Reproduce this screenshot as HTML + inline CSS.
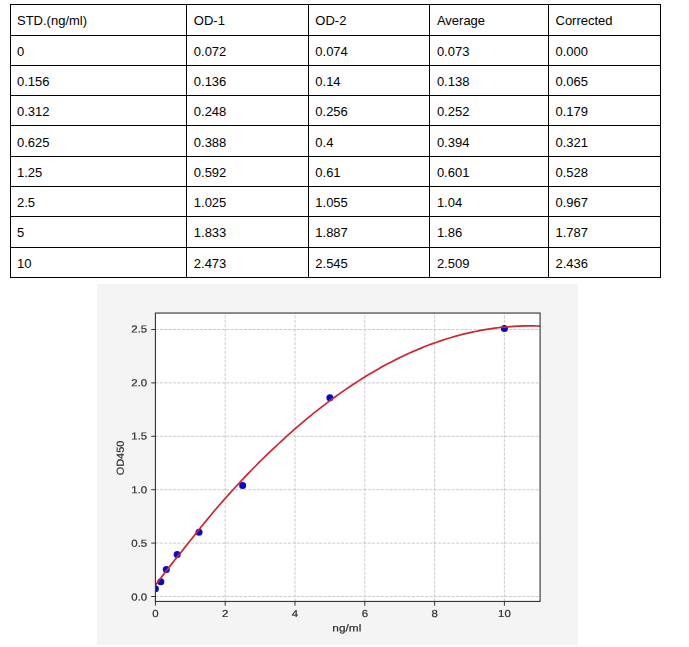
<!DOCTYPE html>
<html><head><meta charset="utf-8"><title>Standard curve</title>
<style>
html,body{margin:0;padding:0;background:#fff;}
body{width:689px;height:647px;position:relative;overflow:hidden;font-family:"Liberation Sans",sans-serif;}
.h,.v{position:absolute;background:#000;}
.t{position:absolute;font-size:13.0px;line-height:13.0px;height:13.0px;color:#000;white-space:pre;}
svg{position:absolute;left:0;top:0;}
svg text{font-family:"Liberation Sans",sans-serif;fill:#2c2c2c;stroke:#2c2c2c;stroke-width:0.2px;}
</style></head><body>

<div class="h" style="left:10px;top:4px;width:651px;height:1px"></div>
<div class="h" style="left:10px;top:35px;width:651px;height:1px"></div>
<div class="h" style="left:10px;top:65px;width:651px;height:1px"></div>
<div class="h" style="left:10px;top:95px;width:651px;height:1px"></div>
<div class="h" style="left:10px;top:125px;width:651px;height:1px"></div>
<div class="h" style="left:10px;top:156px;width:651px;height:1px"></div>
<div class="h" style="left:10px;top:186px;width:651px;height:1px"></div>
<div class="h" style="left:10px;top:216px;width:651px;height:1px"></div>
<div class="h" style="left:10px;top:247px;width:651px;height:1px"></div>
<div class="h" style="left:10px;top:277px;width:651px;height:1px"></div>
<div class="v" style="left:10px;top:4px;width:1px;height:274px"></div>
<div class="v" style="left:186px;top:4px;width:1px;height:274px"></div>
<div class="v" style="left:308px;top:4px;width:1px;height:274px"></div>
<div class="v" style="left:429px;top:4px;width:1px;height:274px"></div>
<div class="v" style="left:548px;top:4px;width:1px;height:274px"></div>
<div class="v" style="left:660px;top:4px;width:1px;height:274px"></div>
<div class="t" style="left:17.00px;top:14.30px">STD.(ng/ml)</div>
<div class="t" style="left:193.80px;top:14.30px">OD-1</div>
<div class="t" style="left:315.30px;top:14.30px">OD-2</div>
<div class="t" style="left:436.90px;top:14.30px">Average</div>
<div class="t" style="left:555.50px;top:14.30px">Corrected</div>
<div class="t" style="left:17.00px;top:45.30px">0</div>
<div class="t" style="left:193.80px;top:45.30px">0.072</div>
<div class="t" style="left:315.30px;top:45.30px">0.074</div>
<div class="t" style="left:436.90px;top:45.30px">0.073</div>
<div class="t" style="left:555.50px;top:45.30px">0.000</div>
<div class="t" style="left:17.00px;top:75.30px">0.156</div>
<div class="t" style="left:193.80px;top:75.30px">0.136</div>
<div class="t" style="left:315.30px;top:75.30px">0.14</div>
<div class="t" style="left:436.90px;top:75.30px">0.138</div>
<div class="t" style="left:555.50px;top:75.30px">0.065</div>
<div class="t" style="left:17.00px;top:105.30px">0.312</div>
<div class="t" style="left:193.80px;top:105.30px">0.248</div>
<div class="t" style="left:315.30px;top:105.30px">0.256</div>
<div class="t" style="left:436.90px;top:105.30px">0.252</div>
<div class="t" style="left:555.50px;top:105.30px">0.179</div>
<div class="t" style="left:17.00px;top:136.30px">0.625</div>
<div class="t" style="left:193.80px;top:136.30px">0.388</div>
<div class="t" style="left:315.30px;top:136.30px">0.4</div>
<div class="t" style="left:436.90px;top:136.30px">0.394</div>
<div class="t" style="left:555.50px;top:136.30px">0.321</div>
<div class="t" style="left:17.00px;top:166.30px">1.25</div>
<div class="t" style="left:193.80px;top:166.30px">0.592</div>
<div class="t" style="left:315.30px;top:166.30px">0.61</div>
<div class="t" style="left:436.90px;top:166.30px">0.601</div>
<div class="t" style="left:555.50px;top:166.30px">0.528</div>
<div class="t" style="left:17.00px;top:196.30px">2.5</div>
<div class="t" style="left:193.80px;top:196.30px">1.025</div>
<div class="t" style="left:315.30px;top:196.30px">1.055</div>
<div class="t" style="left:436.90px;top:196.30px">1.04</div>
<div class="t" style="left:555.50px;top:196.30px">0.967</div>
<div class="t" style="left:17.00px;top:226.30px">5</div>
<div class="t" style="left:193.80px;top:226.30px">1.833</div>
<div class="t" style="left:315.30px;top:226.30px">1.887</div>
<div class="t" style="left:436.90px;top:226.30px">1.86</div>
<div class="t" style="left:555.50px;top:226.30px">1.787</div>
<div class="t" style="left:17.00px;top:257.30px">10</div>
<div class="t" style="left:193.80px;top:257.30px">2.473</div>
<div class="t" style="left:315.30px;top:257.30px">2.545</div>
<div class="t" style="left:436.90px;top:257.30px">2.509</div>
<div class="t" style="left:555.50px;top:257.30px">2.436</div>
<svg width="689" height="647" viewBox="0 0 689 647">
<rect x="97" y="284" width="481" height="361" fill="#f4f4f4"/>
<rect x="155.45" y="313.05" width="384.65" height="288.40" fill="#fff"/>
<clipPath id="c"><rect x="155.45" y="313.05" width="384.65" height="288.40"/></clipPath>
<path d="M155.40 601.45 V313.05 M225.20 601.45 V313.05 M295.00 601.45 V313.05 M364.80 601.45 V313.05 M434.60 601.45 V313.05 M504.40 601.45 V313.05 M155.45 596.50 H540.10 M155.45 543.10 H540.10 M155.45 489.70 H540.10 M155.45 436.30 H540.10 M155.45 382.90 H540.10 M155.45 329.50 H540.10" stroke="#c2c2c2" stroke-width="0.85" stroke-dasharray="3.08 1.34" fill="none"/>
<g clip-path="url(#c)">
<circle cx="155.40" cy="588.70" r="3.5" fill="#0808cc"/>
<circle cx="160.84" cy="581.76" r="3.5" fill="#0808cc"/>
<circle cx="166.29" cy="569.59" r="3.5" fill="#0808cc"/>
<circle cx="177.21" cy="554.42" r="3.5" fill="#0808cc"/>
<circle cx="199.03" cy="532.31" r="3.5" fill="#0808cc"/>
<circle cx="242.65" cy="485.43" r="3.5" fill="#0808cc"/>
<circle cx="329.90" cy="397.85" r="3.5" fill="#0808cc"/>
<circle cx="504.40" cy="328.54" r="3.5" fill="#0808cc"/>
<path d="M155.40 585.26 L158.63 580.92 L161.86 576.63 L165.10 572.41 L168.33 568.23 L171.56 564.11 L174.79 560.02 L178.02 555.96 L181.26 551.91 L184.49 547.86 L187.72 543.80 L190.95 539.74 L194.18 535.67 L197.41 531.61 L200.65 527.57 L203.88 523.56 L207.11 519.59 L210.34 515.68 L213.57 511.82 L216.81 508.02 L220.04 504.28 L223.27 500.59 L226.50 496.95 L229.73 493.35 L232.97 489.79 L236.20 486.27 L239.43 482.80 L242.66 479.36 L245.89 475.95 L249.13 472.59 L252.36 469.26 L255.59 465.98 L258.82 462.72 L262.05 459.51 L265.29 456.33 L268.52 453.19 L271.75 450.09 L274.98 447.02 L278.21 444.00 L281.44 441.01 L284.68 438.06 L287.91 435.14 L291.14 432.26 L294.37 429.42 L297.60 426.62 L300.84 423.86 L304.07 421.13 L307.30 418.45 L310.53 415.79 L313.76 413.18 L317.00 410.61 L320.23 408.07 L323.46 405.57 L326.69 403.11 L329.92 400.69 L333.16 398.30 L336.39 395.96 L339.62 393.65 L342.85 391.38 L346.08 389.14 L349.31 386.95 L352.55 384.79 L355.78 382.67 L359.01 380.60 L362.24 378.55 L365.47 376.55 L368.71 374.59 L371.94 372.66 L375.17 370.77 L378.40 368.92 L381.63 367.11 L384.87 365.34 L388.10 363.60 L391.33 361.91 L394.56 360.25 L397.79 358.63 L401.03 357.05 L404.26 355.51 L407.49 354.01 L410.72 352.55 L413.95 351.12 L417.19 349.74 L420.42 348.39 L423.65 347.08 L426.88 345.81 L430.11 344.58 L433.34 343.39 L436.58 342.24 L439.81 341.12 L443.04 340.05 L446.27 339.01 L449.50 338.02 L452.74 337.06 L455.97 336.14 L459.20 335.26 L462.43 334.42 L465.66 333.62 L468.90 332.86 L472.13 332.14 L475.36 331.46 L478.59 330.81 L481.82 330.21 L485.06 329.64 L488.29 329.12 L491.52 328.63 L494.75 328.19 L497.98 327.78 L501.22 327.41 L504.45 327.09 L507.68 326.80 L510.91 326.55 L514.14 326.34 L517.37 326.17 L520.61 326.05 L523.84 325.96 L527.07 325.91 L530.30 325.90 L533.53 325.93 L536.77 326.00 L540.00 326.11" stroke="#cd2530" stroke-width="1.7" fill="none" stroke-linejoin="round"/>
</g>
<path d="M155.40 601.45 v4.2 M225.20 601.45 v4.2 M295.00 601.45 v4.2 M364.80 601.45 v4.2 M434.60 601.45 v4.2 M504.40 601.45 v4.2 M155.45 596.50 h-4.2 M155.45 543.10 h-4.2 M155.45 489.70 h-4.2 M155.45 436.30 h-4.2 M155.45 382.90 h-4.2 M155.45 329.50 h-4.2" stroke="#2a2a2a" stroke-width="0.95" fill="none"/>
<rect x="155.45" y="313.05" width="384.65" height="288.40" fill="none" stroke="#3a3a3a" stroke-width="1.15"/>
<g opacity="0.999">
<text transform="translate(155.40 617.0) rotate(0.03) scale(1.12 1)" font-size="10.2" text-anchor="middle">0</text>
<text transform="translate(225.20 617.0) rotate(0.03) scale(1.12 1)" font-size="10.2" text-anchor="middle">2</text>
<text transform="translate(295.00 617.0) rotate(0.03) scale(1.12 1)" font-size="10.2" text-anchor="middle">4</text>
<text transform="translate(364.80 617.0) rotate(0.03) scale(1.12 1)" font-size="10.2" text-anchor="middle">6</text>
<text transform="translate(434.60 617.0) rotate(0.03) scale(1.12 1)" font-size="10.2" text-anchor="middle">8</text>
<text transform="translate(504.40 617.0) rotate(0.03) scale(1.12 1)" font-size="10.2" text-anchor="middle">10</text>
<text transform="translate(147.2 600.50) rotate(0.03) scale(1.12 1)" font-size="10.2" text-anchor="end">0.0</text>
<text transform="translate(147.2 546.65) rotate(0.03) scale(1.12 1)" font-size="10.2" text-anchor="end">0.5</text>
<text transform="translate(147.2 493.25) rotate(0.03) scale(1.12 1)" font-size="10.2" text-anchor="end">1.0</text>
<text transform="translate(147.2 439.55) rotate(0.03) scale(1.12 1)" font-size="10.2" text-anchor="end">1.5</text>
<text transform="translate(147.2 386.15) rotate(0.03) scale(1.12 1)" font-size="10.2" text-anchor="end">2.0</text>
<text transform="translate(147.2 332.45) rotate(0.03) scale(1.12 1)" font-size="10.2" text-anchor="end">2.5</text>
<text transform="translate(346.8 631.4) rotate(0.03) scale(1.16 1)" font-size="10.2" text-anchor="middle">ng/ml</text>
<text transform="translate(123.8 458) rotate(-89.97) scale(1.075 1)" font-size="10.2" text-anchor="middle">OD450</text>
</g>
</svg>
</body></html>
